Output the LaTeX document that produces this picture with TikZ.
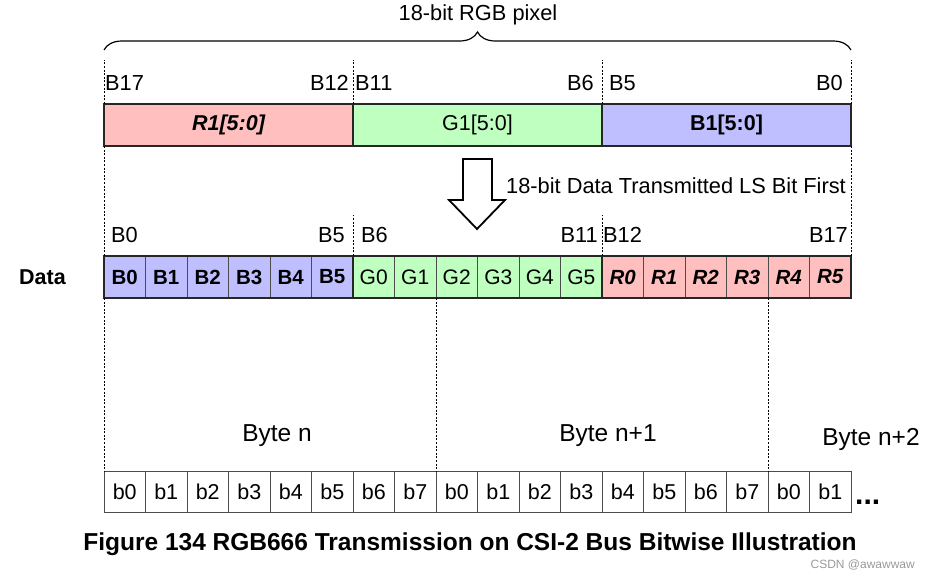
\documentclass[tikz,border=0pt]{standalone}
\usepackage{fontspec}
\setmainfont{Liberation Sans}
\usepackage{tikz}
\usetikzlibrary{positioning,decorations.pathreplacing}
\definecolor{rpink}{RGB}{255,191,191}
\definecolor{ggreen}{RGB}{191,255,191}
\definecolor{bblue}{RGB}{191,191,255}

\begin{document}
\begin{tikzpicture}[x=1pt,y=-1pt,
  bar/.style={draw=black!85,line width=1.6pt,outer sep=0pt,inner sep=0pt,minimum width=249pt,minimum height=42pt,anchor=north west,font=\fontsize{21.5}{25}\selectfont},
  cell/.style={draw=black!70,line width=0.8pt,outer sep=0pt,inner sep=0pt,minimum width=41.5pt,minimum height=42pt,font=\fontsize{21}{25}\selectfont},
  bcell/.style={cell,fill=bblue,font=\fontsize{20.5}{25}\selectfont\bfseries},
  gcell/.style={cell,fill=ggreen},
  rcell/.style={cell,fill=rpink,font=\fontsize{20.5}{25}\selectfont\bfseries\itshape},
  wcell/.style={cell,minimum height=41pt,font=\fontsize{21.5}{25}\selectfont},
  lbl/.style={inner sep=0pt,font=\fontsize{21.8}{26}\selectfont},
  bytelbl/.style={lbl,font=\fontsize{24.5}{29}\selectfont},
  frame/.style={draw=black!85,line width=2pt},
  guide/.style={line width=1pt,dash pattern=on 2pt off 1.6pt},
  brc/.style={decorate,decoration={brace,amplitude=18pt},line width=1.2pt},
  node distance=0pt]
  \useasboundingbox (0,0) rectangle (931,574);

  % 18-bit pixel
  \node[bar,fill=rpink] (rbar) at (104,104) {\bfseries\itshape R1[5:0]};
  \node[bar,fill=ggreen,right=of rbar] (gbar) {G1[5:0]};
  \node[bar,fill=bblue,right=of gbar] (bbar) {\bfseries B1[5:0]};
  \draw[brc] ([yshift=54pt]rbar.north west) -- ([yshift=54pt]bbar.north east);
  \node[lbl] (pix) at (478,15) {18-bit RGB pixel};
  \node[lbl,above right=13.5pt and 1pt of rbar.north west] (t17) {B17};
  \node[lbl,above left=13.5pt and 4pt of gbar.north west] (t12) {B12};
  \node[lbl,above right=13.5pt and 2pt of gbar.north west] (t11) {B11};
  \node[lbl,above left=13.5pt and 8pt of bbar.north west] (t6) {B6};
  \node[lbl,above right=13.5pt and 7pt of bbar.north west] (t5) {B5};
  \node[lbl,above left=13.5pt and 8pt of bbar.north east] (t0) {B0};

  % transmit arrow
  \draw[line width=1.8pt,line join=miter] (463,159) -- (492,159) -- (492,200) -- (505,200)
    -- (477,229) -- (449,200) -- (463,200) -- cycle;
  \node[lbl,anchor=west] (lsb) at (506,186) {18-bit Data Transmitted LS Bit First};

  % data bits
  \node[bcell,anchor=north west] (d0) at (104,256) {B0};
  \foreach \txt/\sty [count=\i from 1] in {B1/bcell,B2/bcell,B3/bcell,B4/bcell,B5/bcell,
      G0/gcell,G1/gcell,G2/gcell,G3/gcell,G4/gcell,G5/gcell,
      R0/rcell,R1/rcell,R2/rcell,R3/rcell,R4/rcell,R5/rcell}{
    \pgfmathtruncatemacro\prev{\i-1}
    \node[\sty,right=of d\prev] (d\i) {\txt};
  }
  \draw[frame] (d0.north west) rectangle (d17.south east);
  \draw[frame] (d6.north west) -- (d6.south west) (d12.north west) -- (d12.south west);
  \node[lbl,font=\fontsize{21.5}{26}\selectfont\bfseries,left=38pt of d0] (data) {Data};
  \node[lbl,above right=13.5pt and 7pt of d0.north west] (s0) {B0};
  \node[lbl,above left=13.5pt and 8pt of d6.north west] (s5) {B5};
  \node[lbl,above right=13.5pt and 8pt of d6.north west] (s6) {B6};
  \node[lbl,above left=13.5pt and 4pt of d12.north west] (s11) {B11};
  \node[lbl,above right=13.5pt and 1pt of d12.north west] (s12) {B12};
  \node[lbl,above left=13.5pt and 3pt of d17.north east] (s17) {B17};

  % bytes on the bus
  \node[wcell,anchor=north west] (e0) at (104,471) {b0};
  \foreach \txt [count=\i from 1] in {b1,b2,b3,b4,b5,b6,b7,b0,b1,b2,b3,b4,b5,b6,b7,b0,b1}{
    \pgfmathtruncatemacro\prev{\i-1}
    \node[wcell,right=of e\prev] (e\i) {\txt};
  }
  \node[bytelbl] (byte0) at (277,436) {Byte n};
  \node[bytelbl] (byte1) at (608,436) {Byte n+1};
  \node[bytelbl] (byte2) at (871,439) {Byte n+2};
  \node[lbl,font=\fontsize{30}{34}\selectfont\bfseries,anchor=base west] (more) at (855,504) {...};

  % guides
  \draw[guide] (rbar.north west) -- ++(0,-44);
  \draw[guide] (gbar.north west) -- ++(0,-44);
  \draw[guide] (bbar.north west) -- ++(0,-44);
  \draw[guide] (bbar.north east) -- ++(0,-44);
  \draw[guide] (rbar.south west) -- (d0.north west);
  \draw[guide] (bbar.south east) -- (d17.north east);
  \draw[guide] (d6.north west) -- ++(0,-41);
  \draw[guide] (d12.north west) -- ++(0,-41);
  \draw[guide] (d0.south west) -- (e0.north west);
  \draw[guide] (d8.south west) -- (e8.north west);
  \draw[guide] (d16.south west) -- (e16.north west);

  \node[lbl,font=\fontsize{24.5}{29}\selectfont\bfseries] (cap) at (470,544)
    {Figure 134 RGB666 Transmission on CSI-2 Bus Bitwise Illustration};
  \node[lbl,font=\fontsize{12}{14}\selectfont,text=black!40,anchor=east] (wm) at (915,565) {CSDN @awawwaw};
\end{tikzpicture}
\end{document}
